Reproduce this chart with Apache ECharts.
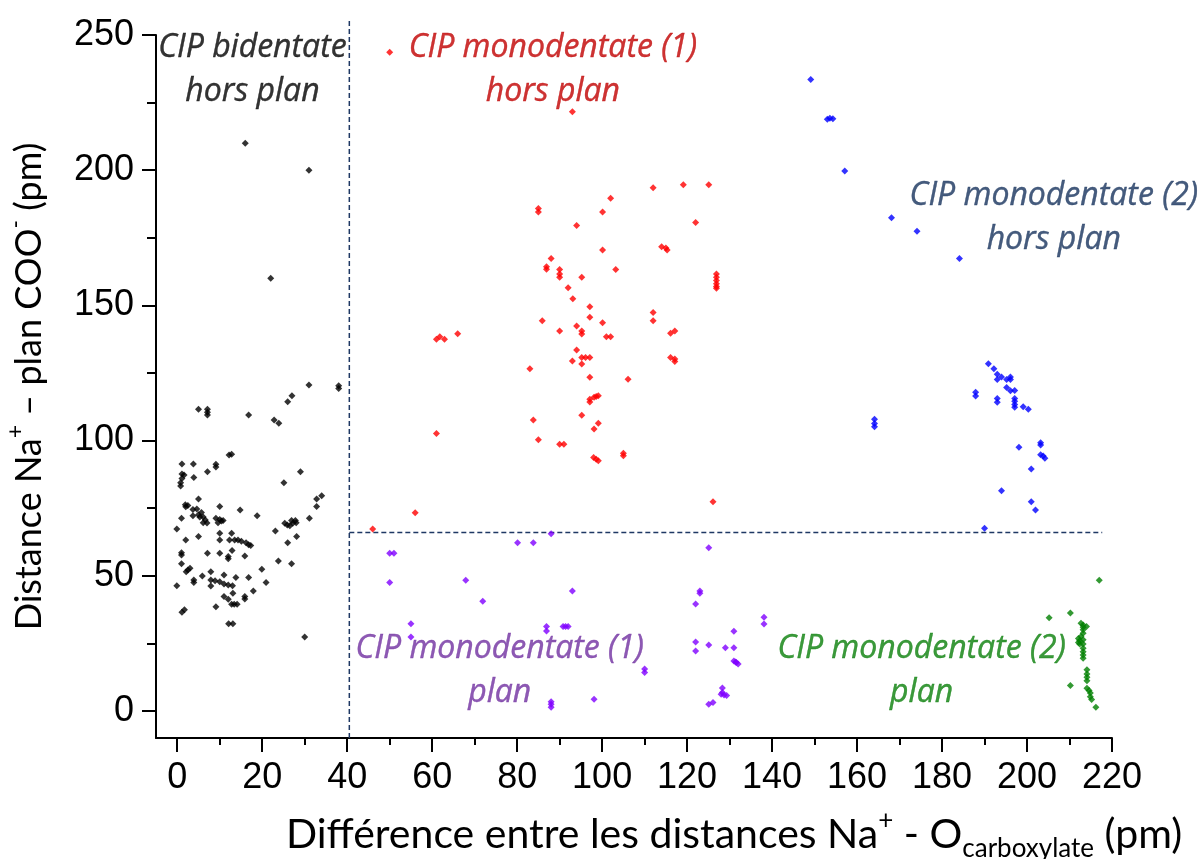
<!DOCTYPE html>
<html>
<head>
<meta charset="utf-8">
<script src="https://cdn.jsdelivr.net/npm/echarts@6/dist/echarts.min.js"></script>
<style>
  html, body { margin: 0; padding: 0; background: #fff; }
  #chart { width: 1204px; height: 859px; }
</style>
</head>
<body>
<div id="chart"></div>
<script>
// CIP bidentate hors plan (noir)
var bidentate = [
  [16,210],[31,200],[22,160],[31,120.6],[38,120.3],[38,119.3],[27,116.6],[26,114.4],[5,111.6],[7.1,111.6],
  [7.1,110.5],[7.1,109.5],[16.8,109.5],[22.8,107.6],[23.9,106.4],[12.8,94.9],[12.2,94.7],[1.1,91.3],[3.8,91.3],[9.1,91.2],
  [9.1,90.2],[7.1,88.5],[29,88.5],[1.1,87.6],[1.6,87.3],[1.1,86],[0.8,84.4],[0.8,83.2],[3.9,86.3],[25.1,84.4],
  [5,78.4],[32.8,78.4],[34,79.6],[1.9,76.3],[2.5,76],[2,75.5],[10,75.6],[14.8,74.3],[32.8,75.6],[3.7,74.5],
  [4.6,74.7],[5,72.6],[5.7,73.4],[3.7,72.2],[5.3,71.7],[6.1,71.7],[1,71.3],[18.8,72.2],[31.1,71.3],[6.1,69.6],
  [7,69.5],[6.6,70.6],[9.1,71.3],[10,70.8],[10.4,70.3],[9.6,69.6],[10.8,70.4],[25.3,69.4],[25.9,68.8],[26.5,68.5],
  [27.2,69.4],[27.8,70.4],[28,69.6],[26.9,70.4],[-0.1,67.3],[23.1,66.6],[10,65.7],[12.8,65.7],[10,63.2],[5,64.5],
  [28.1,64.5],[2,63.2],[12.3,63.2],[13.5,63.2],[14.3,63.2],[15.1,62.8],[16.2,62.2],[16.8,61.5],[17.3,61.2],[26,62.2],
  [12.9,59.3],[1,58.5],[1,57.7],[7.1,58.3],[10,58.3],[12,57.1],[12,56.3],[15.9,57.3],[23.8,55.5],[26.9,54.4],
  [1,54.4],[3,52.8],[2.1,51.5],[2.5,52.1],[19.9,52.4],[5.9,49.9],[7.9,51.5],[7.9,48.4],[8.9,48.2],[10,47.8],
  [11,50.3],[11,47],[12,46.6],[13,46.3],[-0.1,46.3],[3.9,48.4],[3.9,47.5],[7.9,46.2],[13.8,49.4],[16.8,49.4],
  [20.9,47.5],[17.9,44.4],[15.9,42.3],[15.9,41.4],[11,42.3],[12,41.3],[13.1,43.5],[9.1,38.5],[12.8,39.5],[13.4,39.5],
  [14.1,39.5],[1.1,36.5],[1.7,37.4],[12.1,32.3],[13.1,32.3],[30,27.4]
];
// CIP monodentate (1) hors plan (rouge)
var mono1Hors = [
  [50,243.6],[93,221.6],[112,193.5],[119.1,194.6],[125.1,194.6],[102,189.6],[85,185.8],[85,184.5],[100.1,184.5],[94,179.5],
  [122,180.7],[100.1,170.5],[114,171.7],[115,171.2],[115.3,170.5],[88,167.3],[86.9,164.3],[86.9,163.4],[90,163.3],[90,161.6],
  [90,160.4],[95.2,160.4],[103.2,163.3],[126.9,161.6],[126.9,160.4],[126.9,159.2],[126.9,158],[126.9,157],[126.9,156.3],[92,156.5],
  [93.1,152.5],[97.1,149.5],[112,147.4],[112,144.3],[97.1,145.6],[85.9,144.3],[100.1,143.6],[94,142.4],[90,140.5],[95.2,140.5],
  [95.2,139.4],[101,138.4],[102,138.4],[116.1,139.7],[117.1,140.5],[61,137.5],[61.8,138.4],[62.9,137.5],[66,139.5],[94,133.5],
  [93,129.4],[95.2,130.7],[96.1,130.7],[97.1,130.7],[95.2,128.3],[116.1,130.7],[117.1,130.2],[117.1,129.2],[83,126.6],[97.1,123.4],
  [106.1,122.7],[97.1,115.3],[97.1,114.3],[98.1,116],[99.1,116.6],[98.6,116.3],[95.2,109.4],[83.8,107.6],[99.1,106.4],[98.1,104.3],
  [61,102.6],[85,100.3],[90,98.6],[91,98.6],[98,93.7],[98.6,93.1],[99.1,92.5],[105,95.3],[105,94.4],[126.1,77.4],
  [56,73.3],[46,67.3]
];
// CIP monodentate (1) plan (violet)
var mono1Plan = [
  [88,65.5],[80.1,62.2],[83.8,62.2],[125.1,60.4],[50,58.3],[51,58.3],[50,47.5],[67.9,48.3],[71.9,40.6],[93,44.4],
  [123,44.4],[123,43.5],[122,39.6],[55,32.3],[55,27.4],[86.9,31.2],[86.9,29.6],[90.8,31.2],[91.4,31.2],[92,31.2],
  [131,29.5],[138.1,34.7],[138.1,32.2],[122,25.5],[122,22.2],[125.1,24.4],[129,23.4],[131,23.4],[131,18.5],[131.6,17.9],
  [132,17.4],[131.4,18.1],[110,15.5],[110,14.2],[128.3,8.5],[128.3,6.8],[128.7,5.9],[129.3,5.7],[128,6.2],[125.1,2.5],
  [126.1,3.1],[88,3.4],[88,2.5],[88,1.4],[98.1,4.3]
];
// CIP monodentate (2) hors plan (bleu)
var mono2Hors = [
  [149.1,233.5],[153,218.8],[153.6,219.2],[154.3,219],[157.1,199.7],[168.1,182.4],[174.1,177.4],[184.1,167.3],[164.1,107.9],[164.1,106.3],
  [164.1,105.1],[190.9,128.4],[192.2,126.6],[193,124.5],[193,122.6],[194,123.5],[195.2,122.6],[196.1,123.5],[196.1,122.6],[187.9,117.9],
  [187.9,116.5],[193,115.6],[193,114.2],[195.2,119.6],[196.1,118.4],[197.1,118.5],[197.1,115.6],[197.1,114.5],[197.1,113.3],[197.1,112.3],
  [199.1,112.5],[200.3,111.6],[203.2,99.2],[203.2,98.4],[203.2,94.8],[203.8,94.3],[204.2,93.5],[198.1,97.5],[201,89.5],[194,81.4],
  [201,77.4],[202,74.3],[190,67.6]
];
// CIP monodentate (2) plan (vert)
var mono2Plan = [
  [217,48.3],[205.2,34.5],[210.2,36.2],[212.7,32.4],[213.2,31.8],[214,31.2],[213.2,31],[213.2,30],[213.2,28.7],[212.7,27.5],
  [212.1,26.8],[212.4,26],[212.1,25.3],[212.4,24.8],[213.2,26.3],[213.2,24.8],[213.2,23.2],[213.2,21.9],[213.2,20.7],[213.2,19.5],
  [214.1,15.2],[214.1,13.7],[214.1,12.5],[214.1,11.2],[210.2,9.4],[214.1,8.4],[214.6,7.6],[214.9,6.6],[214.9,5.3],[215.2,4.2],
  [216.2,1.4]
];

// axes
var xMajor = [0,20,40,60,80,100,120,140,160,180,200,220];
var xMinor = [10,30,50,70,90,110,130,150,170,190,210];
var yMajor = [0,50,100,150,200,250];
var yMinor = [25,75,125,175,225];

// séparations en pointillés
var vLine = [[40.5, -10], [40.5, 256]];
var hLine = [[40.5, 66], [217.7, 66]];

// étiquettes des zones
var zoneLabels = [
  { text: 'CIP bidentate\nhors plan', pos: [17.7, 237.1], color: '#000000' },
  { text: 'CIP monodentate (1)\nhors plan', pos: [88.4, 237.1], color: '#C00000' },
  { text: 'CIP monodentate (2)\nhors plan', pos: [206.3, 182.3], color: '#16325C' },
  { text: 'CIP monodentate (1)\nplan', pos: [75.9, 14.8], color: '#7030A0' },
  { text: 'CIP monodentate (2)\nplan', pos: [175.2, 14.8], color: '#0A800A' }
];

var chart = echarts.init(document.getElementById('chart'));

function nameRich(size) {
  return {
    sup: { fontFamily: 'Lato', fontSize: size, lineHeight: size, verticalAlign: 'top', color: '#000' },
    sub: { fontFamily: 'Lato', fontSize: size, lineHeight: size, verticalAlign: 'bottom', color: '#000' }
  };
}

function scat(name, data, color) {
  return {
    name: name, type: 'scatter', data: data,
    xAxisIndex: 0, yAxisIndex: 0,
    symbol: 'diamond', symbolSize: 7,
    itemStyle: { color: color },
    z: 3
  };
}

function dashed(data) {
  return {
    type: 'line', data: data, clip: false, silent: true,
    symbol: 'none', z: 2,
    lineStyle: { color: '#1F3864', width: 1.5, type: [5, 3] }
  };
}

var option = {
  animation: false,
  backgroundColor: '#fff',
  grid: { left: 156, right: 92, top: 35, bottom: 121, containLabel: false, outerBoundsMode: 'none' },
  xAxis: [
    {
      type: 'value', min: -5, max: 220, position: 'bottom',
      name: 'Différence entre les distances Na{sup|+} - O{sub|carboxylate} (pm)',
      nameLocation: 'middle', nameGap: 70,
      nameTextStyle: { fontFamily: 'Lato', fontSize: 41, lineHeight: 54, color: '#000', padding: [0, 0, 0, 200], rich: nameRich(26) },
      axisLine: { onZero: false, lineStyle: { color: '#000', width: 2 } },
      axisTick: { customValues: xMajor, length: 14, lineStyle: { color: '#000', width: 2 } },
      axisLabel: { customValues: xMajor, margin: 22, fontFamily: 'Liberation Sans', fontSize: 36, color: '#000' },
      splitLine: { show: false }
    },
    {
      type: 'value', min: -5, max: 220, position: 'bottom', offset: 0,
      axisLine: { show: false, onZero: false },
      axisTick: { customValues: xMinor, length: 7, lineStyle: { color: '#000', width: 2 } },
      axisLabel: { show: false },
      splitLine: { show: false }
    }
  ],
  yAxis: [
    {
      type: 'value', min: -10, max: 250, position: 'left',
      name: 'Distance Na{sup|+} – plan COO{sup|-} (pm)',
      nameLocation: 'middle', nameGap: 102,
      nameTextStyle: { fontFamily: 'Lato', fontSize: 36, lineHeight: 50, color: '#000', rich: nameRich(23) },
      axisLine: { onZero: false, lineStyle: { color: '#000', width: 2 } },
      axisTick: { customValues: yMajor, length: 14, lineStyle: { color: '#000', width: 2 } },
      axisLabel: { customValues: yMajor, margin: 22, fontFamily: 'Liberation Sans', fontSize: 36, color: '#000' },
      splitLine: { show: false }
    },
    {
      type: 'value', min: -10, max: 250, position: 'left', offset: 0,
      axisLine: { show: false, onZero: false },
      axisTick: { customValues: yMinor, length: 9, lineStyle: { color: '#000', width: 2 } },
      axisLabel: { show: false },
      splitLine: { show: false }
    }
  ],
  series: [
    scat('bidentate', bidentate, '#000000'),
    scat('mono1 hors plan', mono1Hors, '#FF0000'),
    scat('mono1 plan', mono1Plan, '#8000FF'),
    scat('mono2 hors plan', mono2Hors, '#0000FF'),
    scat('mono2 plan', mono2Plan, '#008000'),
    dashed(vLine),
    dashed(hLine),
    {
      type: 'scatter', symbolSize: 0, silent: true, z: 5,
      data: zoneLabels.map(function (d) {
        return {
          value: d.pos,
          label: {
            show: true, position: 'inside', formatter: d.text,
            color: d.color, fontFamily: 'Open Sans', fontStyle: 'italic',
            fontSize: 32, lineHeight: 44, align: 'center', verticalAlign: 'middle',
            textBorderColor: d.color, textBorderWidth: 0.4
          }
        };
      })
    }
  ]
};

chart.setOption(option);
</script>
</body>
</html>
